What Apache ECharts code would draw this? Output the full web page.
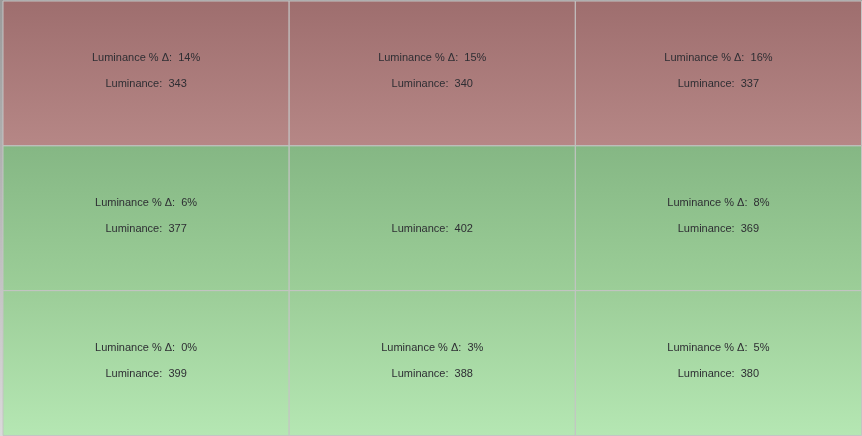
<!DOCTYPE html>
<html>
<head>
<meta charset="utf-8">
<style>
html,body{margin:0;padding:0;background:#fff;}
#chart{width:862px;height:436px;}
</style>
<script src="https://cdn.jsdelivr.net/npm/echarts@6/dist/echarts.min.js"></script>
</head>
<body>
<div id="chart"></div>
<script>
// Columns (left to right) and rows (top to bottom) of the grid
const columns = ['Left', 'Center', 'Right'];
const rows = ['Top', 'Middle', 'Bottom'];
// Luminance values per row
const luminanceTop = [343, 340, 337];
const luminanceMiddle = [377, 402, 369];
const luminanceBottom = [399, 388, 380];
// Luminance % delta per row (null = reference cell)
const deltaTop = [14, 15, 16];
const deltaMiddle = [6, null, 8];
const deltaBottom = [0, 3, 5];
const threshold = 10;

const luminance = [luminanceTop, luminanceMiddle, luminanceBottom];
const delta = [deltaTop, deltaMiddle, deltaBottom];

const data = [];
rows.forEach((r, ri) => {
  columns.forEach((c, ci) => {
    data.push([ci, ri, luminance[ri][ci], delta[ri][ci] === null ? '-' : delta[ri][ci]]);
  });
});

const rowGradients = {
  red: ['#9e6e6e', '#b68786'],
  green1: ['#85b784', '#9cce98'],
  green2: ['#9ccd98', '#b5e7b3']
};

function renderItem(params, api) {
  const ci = api.value(0), ri = api.value(1);
  const lum = api.value(2);
  const d = api.value(3);
  const center = api.coord([ci, ri]);
  const size = api.size([1, 1]);
  const x = center[0] - size[0] / 2;
  const y = center[1] - size[1] / 2;
  const isFail = d !== '-' && !isNaN(d) && d > threshold;
  let g;
  if (isFail) g = rowGradients.red;
  else if (ri === 1) g = rowGradients.green1;
  else g = rowGradients.green2;
  const children = [{
    type: 'rect',
    shape: { x: x, y: y, width: size[0], height: size[1] },
    style: {
      fill: new echarts.graphic.LinearGradient(0, 0, 0, 1, [
        { offset: 0, color: g[0] }, { offset: 1, color: g[1] }
      ]),
      stroke: '#c4c4c4',
      lineWidth: 1
    }
  }];
  const font = '11px "Liberation Sans", Arial, sans-serif';
  if (d !== '-' && !isNaN(d)) {
    children.push({
      type: 'text',
      style: {
        x: center[0], y: center[1] - 15,
        text: 'Luminance % Δ:  ' + d + '%',
        font: font, fill: '#2e2e33', align: 'center', verticalAlign: 'middle'
      }
    });
  }
  children.push({
    type: 'text',
    style: {
      x: center[0], y: center[1] + 11,
      text: 'Luminance:  ' + lum,
      font: font, fill: '#2e2e33', align: 'center', verticalAlign: 'middle'
    }
  });
  return { type: 'group', children: children };
}

const chart = echarts.init(document.getElementById('chart'), null, { renderer: 'canvas' });
chart.setOption({
  backgroundColor: new echarts.graphic.LinearGradient(0, 0, 0, 1, [
    { offset: 0, color: '#9a9a9a' }, { offset: 1, color: '#dadada' }
  ]),
  animation: false,
  grid: { left: 3, top: 1, right: 0.5, bottom: 0.5 },
  xAxis: { type: 'category', data: columns, show: false },
  yAxis: { type: 'category', data: rows, inverse: true, show: false },
  series: [{
    type: 'custom',
    renderItem: renderItem,
    data: data,
    encode: { x: 0, y: 1 },
    clip: false
  }]
});
</script>
</body>
</html>
